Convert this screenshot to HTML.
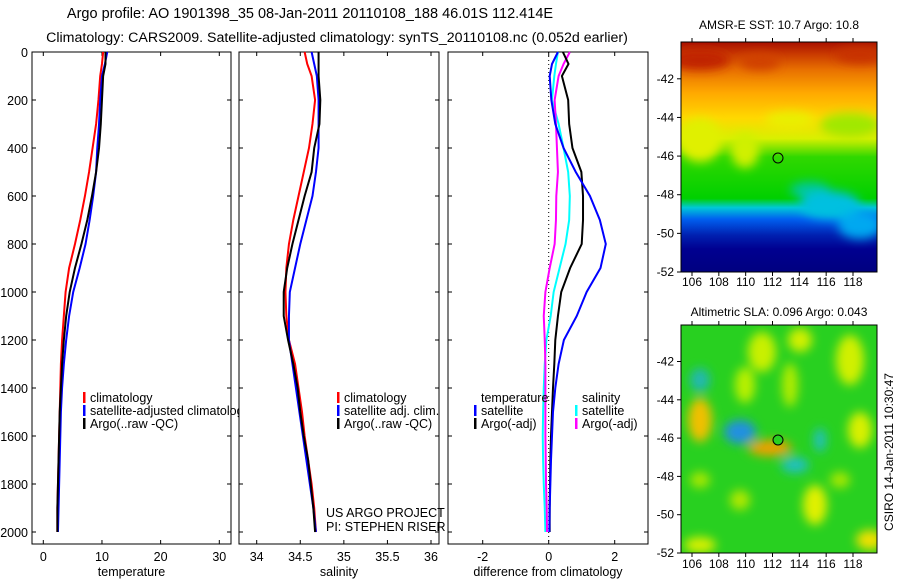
<!DOCTYPE html>
<html><head><meta charset="utf-8"><style>
html,body{margin:0;padding:0;background:#fff;}
svg{display:block;font-family:"Liberation Sans",sans-serif;}
</style></head><body>
<svg id="c" width="900" height="580" viewBox="0 0 900 580">
<defs>
<linearGradient id="sstg" x1="0" y1="0" x2="0" y2="1">
<stop offset="0" stop-color="#a81000"/><stop offset="0.05" stop-color="#c83800"/>
<stop offset="0.12" stop-color="#e87000"/><stop offset="0.22" stop-color="#ffa800"/>
<stop offset="0.33" stop-color="#ffd800"/><stop offset="0.42" stop-color="#d8f000"/>
<stop offset="0.5" stop-color="#30d800"/><stop offset="0.68" stop-color="#00d000"/>
<stop offset="0.72" stop-color="#00c8d8"/><stop offset="0.77" stop-color="#0060f0"/>
<stop offset="0.84" stop-color="#0020b0"/><stop offset="0.9" stop-color="#000090"/>
<stop offset="1" stop-color="#000080"/></linearGradient>
<filter id="bl" x="-50%" y="-50%" width="200%" height="200%"><feGaussianBlur stdDeviation="5"/></filter>
<clipPath id="m1"><rect x="681" y="42" width="196" height="230"/></clipPath>
<clipPath id="m2"><rect x="681" y="325" width="196" height="228"/></clipPath>
</defs>
<text x="310" y="18" font-size="14.5" text-anchor="middle">Argo profile: AO 1901398_35 08-Jan-2011 20110108_188 46.01S 112.414E</text>
<text x="337" y="42" font-size="14.2" text-anchor="middle">Climatology: CARS2009. Satellite-adjusted climatology: synTS_20110108.nc (0.052d earlier)</text>

<g>
<g clip-path="url(#m1)">
<rect x="681" y="42" width="196" height="230" fill="url(#sstg)"/>
<g filter="url(#bl)">
<ellipse cx="700" cy="140" rx="22" ry="22" fill="#e0f000"/>
<ellipse cx="745" cy="150" rx="14" ry="18" fill="#d0f000"/>
<ellipse cx="850" cy="125" rx="30" ry="12" fill="#a0e800"/>
<ellipse cx="790" cy="120" rx="25" ry="8" fill="#e8f000"/>
<ellipse cx="810" cy="190" rx="20" ry="8" fill="#00c8a0"/>
<ellipse cx="830" cy="205" rx="30" ry="14" fill="#00c0e0"/>
<ellipse cx="860" cy="225" rx="22" ry="14" fill="#00a8f0"/>
<ellipse cx="700" cy="60" rx="30" ry="10" fill="#c02000"/>
<ellipse cx="860" cy="55" rx="25" ry="8" fill="#c83000"/>
<ellipse cx="760" cy="62" rx="20" ry="8" fill="#d04000"/>
</g>
</g>
<rect x="681" y="42" width="196" height="230" fill="none" stroke="#000"/>
<circle cx="778" cy="158" r="5" fill="none" stroke="#000"/>
</g>
<text x="779" y="29" font-size="12" text-anchor="middle">AMSR-E SST: 10.7 Argo: 10.8</text>

<g>
<g clip-path="url(#m2)">
<rect x="681" y="325" width="196" height="228" fill="#28d020"/>
<g filter="url(#bl)">
<ellipse cx="700" cy="420" rx="12" ry="22" fill="#f0c000"/>
<ellipse cx="740" cy="432" rx="16" ry="12" fill="#2090e0"/>
<ellipse cx="770" cy="448" rx="22" ry="8" fill="#f0a000"/>
<ellipse cx="762" cy="352" rx="14" ry="20" fill="#c8f000"/>
<ellipse cx="745" cy="385" rx="10" ry="18" fill="#b8f000"/>
<ellipse cx="800" cy="340" rx="12" ry="12" fill="#d0f000"/>
<ellipse cx="790" cy="385" rx="8" ry="22" fill="#b0ec00"/>
<ellipse cx="850" cy="360" rx="14" ry="25" fill="#d0f000"/>
<ellipse cx="860" cy="430" rx="12" ry="18" fill="#d8f000"/>
<ellipse cx="815" cy="505" rx="12" ry="20" fill="#e0f000"/>
<ellipse cx="700" cy="380" rx="10" ry="12" fill="#20b8b0"/>
<ellipse cx="795" cy="465" rx="14" ry="8" fill="#20c0c0"/>
<ellipse cx="820" cy="440" rx="6" ry="12" fill="#20c0c0"/>
<ellipse cx="870" cy="540" rx="14" ry="10" fill="#f0e000"/>
<ellipse cx="700" cy="545" rx="16" ry="8" fill="#d8f000"/>
<ellipse cx="740" cy="500" rx="10" ry="10" fill="#b0e800"/>
<ellipse cx="700" cy="480" rx="10" ry="8" fill="#a8e800"/>
<ellipse cx="840" cy="480" rx="10" ry="8" fill="#a8e800"/>
</g>
</g>
<rect x="681" y="325" width="196" height="228" fill="none" stroke="#000"/>
<circle cx="778" cy="440" r="5" fill="#28d020" stroke="#000"/>
</g>
<text x="779" y="316" font-size="12" text-anchor="middle">Altimetric SLA: 0.096 Argo: 0.043</text>
<text transform="translate(893,452) rotate(-90)" font-size="12" text-anchor="middle">CSIRO 14-Jan-2011 10:30:47</text>
<g id="g"></g>
</svg>
<script>
const depths=[0,50,100,200,300,400,500,600,700,800,900,1000,1100,1200,1300,1400,1500,1600,1700,1800,1900,2000];
const tempClim=[10.2,10.0,9.7,9.4,9.0,8.4,7.8,7.1,6.3,5.4,4.4,3.8,3.5,3.2,3.0,2.9,2.8,2.7,2.6,2.5,2.4,2.4];
const tempSat=[10.9,10.5,10.0,9.7,9.5,9.2,9.0,8.5,7.9,7.2,6.2,5.1,4.4,3.9,3.5,3.2,3.0,2.9,2.8,2.7,2.6,2.5];
const tempArgo=[10.6,10.6,10.2,10.0,9.8,9.5,9.0,8.3,7.5,6.5,5.4,4.5,3.9,3.5,3.2,3.0,2.8,2.7,2.6,2.5,2.4,2.4];
const salClim=[34.55,34.58,34.63,34.67,34.64,34.60,34.54,34.48,34.42,34.37,34.34,34.33,34.34,34.37,34.44,34.48,34.52,34.55,34.59,34.63,34.66,34.68];
const salSat=[34.63,34.66,34.69,34.71,34.71,34.71,34.68,34.64,34.57,34.50,34.44,34.38,34.37,34.37,34.41,34.45,34.49,34.53,34.57,34.61,34.65,34.68];
const salArgo=[34.71,34.71,34.71,34.73,34.72,34.66,34.63,34.55,34.48,34.41,34.35,34.31,34.31,34.36,34.42,34.47,34.50,34.54,34.59,34.62,34.65,34.67];
const dTempSat=[0.28,0.1,0.03,0.08,0.2,0.45,0.82,1.25,1.55,1.73,1.57,1.15,0.85,0.46,0.3,0.2,0.13,0.1,0.07,0.05,0.03,0.02];
const dTempArgo=[0.43,0.6,0.4,0.59,0.62,0.72,0.99,1.04,1.04,1.0,0.65,0.38,0.28,0.2,0.17,0.13,0.1,0.07,0.05,0.04,0.03,0.03];
const dSalSat=[0.28,0.22,0.17,0.1,0.3,0.45,0.59,0.64,0.62,0.51,0.33,0.15,0.06,-0.07,-0.12,-0.15,-0.17,-0.18,-0.17,-0.15,-0.12,-0.1];
const dSalArgo=[0.64,0.45,0.3,0.18,0.22,0.25,0.28,0.23,0.22,0.18,0.03,-0.1,-0.15,-0.12,-0.1,-0.1,-0.1,-0.1,-0.09,-0.08,-0.06,-0.05];
const depthTicks=[0,200,400,600,800,1000,1200,1400,1600,1800,2000];
const tempTicks=[0,10,20,30];
const salTicks=[34,34.5,35,35.5,36];
const salTickLabels=["34","34.5","35","35.5","36"];
const diffTicks=[-2,0,2];
const latTicks=[-42,-44,-46,-48,-50,-52];
const lonTicks=[106,108,110,112,114,116,118];

const NS='http://www.w3.org/2000/svg';
const G=document.getElementById('g');
function mk(tag,at,parent){const e=document.createElementNS(NS,tag);for(const k in at)e.setAttribute(k,at[k]);(parent||G).appendChild(e);return e;}
const yD=d=>52+d*(532-52)/2000;
function panel(name,x0,x1,xs,ticks,labels,title,yLabels){
  const g=mk('g',{});
  
  
  mk('rect',{x:x0,y:52,width:x1-x0,height:492,fill:'#fff',stroke:'#000'},g);
  depthTicks.forEach(d=>{const y=yD(d);
    mk('line',{x1:x0,x2:x0+4,y1:y,y2:y,stroke:'#000'},g);
    mk('line',{x1:x1-4,x2:x1,y1:y,y2:y,stroke:'#000'},g);
    if(yLabels){const t=mk('text',{x:x0-4,y:y+5,'font-size':12.5,'text-anchor':'end'},g);t.textContent=d;}});
  ticks.forEach((v,i)=>{const x=xs(v);
    mk('line',{x1:x,x2:x,y1:52,y2:56,stroke:'#000'},g);
    mk('line',{x1:x,x2:x,y1:540,y2:544,stroke:'#000'},g);
    const t=mk('text',{x:x,y:561,'font-size':12.5,'text-anchor':'middle'},g);t.textContent=labels[i];});
  const t=mk('text',{x:(x0+x1)/2,y:576,'font-size':12.5,'text-anchor':'middle'},g);t.textContent=title;
  return g;
}
function series(g,name,vals,xs,color){
  const p=mk('polyline',{points:vals.map((v,i)=>xs(v)+','+yD(depths[i])).join(' '),fill:'none',stroke:color,'stroke-width':2},g);
  
  
}
function legend(g,x,y,color,label){
  if(color)mk('rect',{x:x-7,y:y-10,width:2.5,height:11,fill:color},g);
  const t=mk('text',{x:x,y:y,'font-size':12.5},g);t.textContent=label;
}
const xT=v=>43.3+v*(219.3-43.3)/30;
const p1=panel('temperature-panel',32,231,xT,tempTicks,tempTicks.map(String),'temperature',true);
series(p1,'temp-climatology-line',tempClim,xT,'#f00');
series(p1,'temp-satellite-line',tempSat,xT,'#00f');
series(p1,'temp-argo-line',tempArgo,xT,'#000');
legend(p1,90,402,'#f00','climatology');
legend(p1,90,415,'#00f','satellite-adjusted climatology');
legend(p1,90,428,'#000','Argo(..raw -QC)');
const xS=v=>256.7+(v-34)*(431-256.7)/2;
const p2=panel('salinity-panel',239,439,xS,salTicks,salTickLabels,'salinity',false);
series(p2,'sal-climatology-line',salClim,xS,'#f00');
series(p2,'sal-satellite-line',salSat,xS,'#00f');
series(p2,'sal-argo-line',salArgo,xS,'#000');
legend(p2,344,402,'#f00','climatology');
legend(p2,344,415,'#00f','satellite adj. clim.');
legend(p2,344,428,'#000','Argo(..raw -QC)');
legend(p2,326,517,null,'US ARGO PROJECT');
legend(p2,326,531,null,'PI: STEPHEN RISER');
const xDf=v=>548.7+v*33;
const p3=panel('difference-panel',448,648,xDf,diffTicks,diffTicks.map(String),'difference from climatology',false);
mk('line',{x1:xDf(0),x2:xDf(0),y1:52,y2:544,stroke:'#000','stroke-dasharray':'1,3'},p3);
series(p3,'diff-sal-satellite-line',dSalSat,xDf,'#0ff');
series(p3,'diff-sal-argo-line',dSalArgo,xDf,'#f0f');
series(p3,'diff-temp-argo-line',dTempArgo,xDf,'#000');
series(p3,'diff-temp-satellite-line',dTempSat,xDf,'#00f');
legend(p3,481,402,null,'temperature');
legend(p3,481,415,'#00f','satellite');
legend(p3,481,428,'#000','Argo(-adj)');
legend(p3,582,402,null,'salinity');
legend(p3,582,415,'#0ff','satellite');
legend(p3,582,428,'#f0f','Argo(-adj)');
function mapAxes(name,top,bottom,lat42,lat52,labY){
  const g=mk('g',{});
  
  
  const yl=v=>lat42+(v+42)/(-10)*(lat52-lat42);
  const xl=v=>692+(v-106)*(853-692)/12;
  latTicks.forEach(v=>{const y=yl(v);
    mk('line',{x1:677,x2:681,y1:y,y2:y,stroke:'#000'},g);
    const t=mk('text',{x:674,y:y+4,'font-size':12,'text-anchor':'end'},g);t.textContent=v;});
  lonTicks.forEach(v=>{const x=xl(v);
    mk('line',{x1:x,x2:x,y1:bottom,y2:bottom+4,stroke:'#000'},g);
    mk('line',{x1:x,x2:x,y1:top-4,y2:top,stroke:'#000'},g);
    const t=mk('text',{x:x,y:labY,'font-size':12,'text-anchor':'middle'},g);t.textContent=v;});
}
mapAxes('sst-map-axes',42,272,78.8,272,286);
mapAxes('sla-map-axes',325,553,361.5,553,568);
</script>
</body></html>
